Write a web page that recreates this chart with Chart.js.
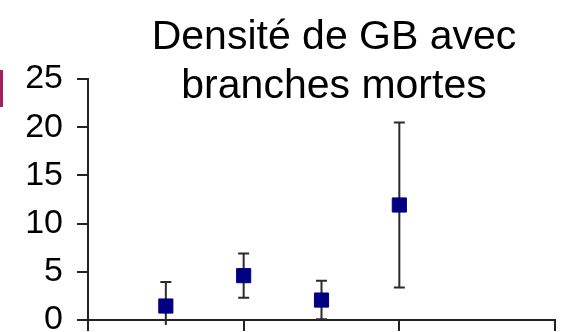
<!DOCTYPE html>
<html>
<head>
<meta charset="utf-8">
<script src="https://cdn.jsdelivr.net/npm/chart.js@4"></script>
<style>
  html, body { margin: 0; padding: 0; background: #fff; }
  #wrap { width: 566px; height: 332px; }
</style>
</head>
<body>
<div id="wrap"><canvas id="chart"></canvas></div>
<script>
// Site positions on the x axis, mean density and half-width of the error bar
const sites = [1, 2, 3, 4];
const densite = [1.45, 4.6, 2.07, 11.93];
const ecart = [2.5, 2.3, 2.0, 8.55];
const yTicks = [0, 5, 10, 15, 20, 25];
const titre = ['Densité de GB avec', 'branches mortes'];

const FONT = '"Liberation Sans", Arial, sans-serif';

// error bars drawn behind the squares
const errorBars = {
  id: 'errorBars',
  beforeDatasetsDraw(chart) {
    const { ctx, scales: { x, y }, chartArea } = chart;
    ctx.save();
    ctx.beginPath();
    ctx.rect(0, 0, chart.width, chartArea.bottom + 5);
    ctx.clip();
    ctx.strokeStyle = '#2b2b2b';
    ctx.lineWidth = 2;
    sites.forEach((s, i) => {
      const px = x.getPixelForValue(s);
      const top = y.getPixelForValue(densite[i] + ecart[i]);
      const bot = y.getPixelForValue(densite[i] - ecart[i]);
      ctx.beginPath();
      ctx.moveTo(px, top); ctx.lineTo(px, bot);
      ctx.moveTo(px - 5.5, top); ctx.lineTo(px + 5.5, top);
      ctx.moveTo(px - 5.5, bot); ctx.lineTo(px + 5.5, bot);
      ctx.stroke();
    });
    ctx.restore();
  }
};

// two-line title and the legend swatch peeking in at the left edge
const decor = {
  id: 'decor',
  afterDraw(chart) {
    const { ctx } = chart;
    ctx.save();
    ctx.fillStyle = '#a3205c';
    ctx.fillRect(0, 70, 3, 37);
    ctx.fillStyle = '#000';
    ctx.font = '41px ' + FONT;
    ctx.textAlign = 'center';
    ctx.textBaseline = 'alphabetic';
    ctx.fillText(titre[0], 334, 49);
    ctx.fillText(titre[1], 334, 98);
    ctx.restore();
  }
};

new Chart(document.getElementById('chart'), {
  type: 'scatter',
  data: {
    datasets: [{
      data: sites.map((s, i) => ({ x: s, y: densite[i] })),
      backgroundColor: '#000080',
      borderColor: '#000080',
      pointStyle: 'rect',
      pointRadius: 10,
      pointHoverRadius: 10
    }]
  },
  options: {
    responsive: true,
    maintainAspectRatio: false,
    animation: false,
    layout: { padding: { top: 79, right: 10, left: 0, bottom: 0 } },
    plugins: { legend: { display: false }, tooltip: { enabled: false }, title: { display: false } },
    scales: {
      x: {
        type: 'linear',
        min: 0,
        max: 6,
        ticks: { stepSize: 2, display: false },
        grid: { drawOnChartArea: false, tickLength: 11, color: '#222', lineWidth: 2 },
        border: { color: '#222', width: 2 },
        afterFit(scale) {
          scale.height = 12;
          scale.paddingLeft = 0;
          scale.paddingRight = 0;
        }
      },
      y: {
        min: 0,
        max: 25,
        afterBuildTicks(scale) { scale.ticks = yTicks.map(v => ({ value: v })); },
        ticks: { color: '#000', padding: 14, font: { family: FONT, size: 34 } },
        grid: { drawOnChartArea: false, tickLength: 11, color: '#222', lineWidth: 2 },
        border: { color: '#222', width: 2 },
        afterFit(scale) {
          scale.width = 88;
          scale.paddingTop = 0;
          scale.paddingBottom = 0;
        }
      }
    }
  },
  plugins: [errorBars, decor]
});
</script>
</body>
</html>
